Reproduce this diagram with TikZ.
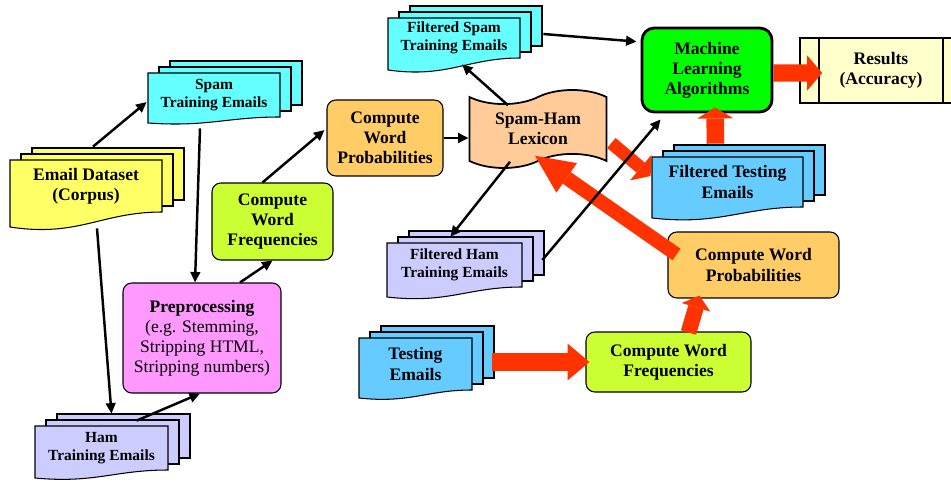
\documentclass[tikz,border=0pt]{standalone}
\usepackage{fontspec}
\setmainfont{Liberation Serif}
\usetikzlibrary{calc,arrows.meta,shapes.symbols}

\definecolor{dsyellow}{HTML}{FFFF66}
\definecolor{spamcyan}{HTML}{66FFFF}
\definecolor{hamlilac}{HTML}{CCCCFF}
\definecolor{testblue}{HTML}{66CCFF}
\definecolor{prepink}{HTML}{FF99FF}
\definecolor{freqlime}{HTML}{CCFF33}
\definecolor{probgold}{HTML}{FFCC66}
\definecolor{lexpeach}{HTML}{FFCC99}
\definecolor{mlgreen}{HTML}{00FF00}
\definecolor{rescream}{HTML}{FFFFCC}
\definecolor{flowred}{HTML}{FF3300}

\tikzset{
  box/.style={draw, rounded corners=5pt, align=center, inner sep=2pt, line width=0.6pt},
  sheet/.style={draw, line width=0.6pt},
  blackarrow/.style={line width=1.4pt, -{Triangle[length=6pt,width=5.5pt]}},
  redarrow/.style n args={3}{draw=flowred, line width=#1, -{Triangle[length=#3,width=#2,line width=0pt]}},
  small/.style={font=\bfseries\fontsize{8.8}{10}\selectfont}
}

% three sheets, the front one with a wavy bottom
% \docstack[fill]{name}(x1,y1)(x2,y2){dip}{text}{style}
\def\docstack[#1]#2(#3,#4)(#5,#6)#7#8#9{%
  \foreach \k in {2,1}
    \draw[sheet, fill=#1] ({#3+\k*11},{#4-\k*6}) rectangle ({#5+\k*11},{#6-\k*6});
  \draw[sheet, fill=#1] (#3,{#6+#7}) -- (#3,#4) -- (#5,#4) -- (#5,#6)
    .. controls +({-0.4*(#5-#3)},0) and +({0.45*(#5-#3)},{0.7*#7}) .. (#3,{#6+#7}) -- cycle;
  \node[inner sep=0pt, align=center, minimum width={(#5-#3)*0.02cm},
    minimum height={(#6-#4)*0.02cm}, #9] (#2) at ({(#3+#5)/2},{(#4+#6)/2}) {#8};
}

\begin{document}
\begin{tikzpicture}[x=0.02cm, y=-0.02cm,
    every node/.style={font=\bfseries\fontsize{10}{11.4}\selectfont}]
  %%%%% START %%%%%
  \useasboundingbox (0,0) rectangle (951,483);
  \clip (0,0) rectangle (951,483);

  % document stacks
  \docstack[dsyellow]{corpus}(10,160)(162,212){15}{Email Dataset\\(Corpus)}{}
  \docstack[spamcyan]{spamtr}(148,73)(280,117){6}{Spam\\Training Emails}{small}
  \docstack[hamlilac]{hamtr}(35,426)(168,470){8}{Ham\\Training Emails}{small}
  \docstack[spamcyan]{filspam}(388,18)(520,58){12}{Filtered Spam\\Training Emails}{small}
  \docstack[hamlilac]{filham}(387,243)(522,287){10}{Filtered Ham\\Training Emails}{small}
  \docstack[testblue]{testing}(359,338)(472,390){8}{Testing\\Emails}{}
  \docstack[testblue]{filtest}(652,157)(803,207){11}{Filtered Testing\\Emails}{}

  % process boxes
  \node[box, fill=prepink, minimum width=3.16cm, minimum height=2.2cm,
    font=\fontsize{10}{11.4}\selectfont] (prep) at (202,338)
    {\textbf{Preprocessing}\\(e.g. Stemming,\\Stripping HTML,\\Stripping numbers)};
  \node[box, fill=freqlime, minimum width=2.42cm, minimum height=1.54cm] (cwf1) at (272.5,221.5) {Compute\\Word\\Frequencies};
  \node[box, fill=probgold, minimum width=2.32cm, minimum height=1.52cm] (cwp1) at (385,138) {Compute\\Word\\Probabilities};
  \node[draw, tape, fill=lexpeach, line width=1pt, align=center, minimum width=2.74cm,
    minimum height=1.56cm, tape bend height=8pt] (lex) at (538,129) {Spam-Ham\\Lexicon};
  \node[box, fill=mlgreen, line width=1.6pt, rounded corners=7pt, minimum width=2.6cm,
    minimum height=1.68cm] (ml) at (707,70) {Machine\\Learning\\Algorithms};
  \node[draw, fill=rescream, line width=1pt, align=center, minimum width=3.24cm,
    minimum height=1.3cm] (res) at (881,70.5) {Results\\(Accuracy)};
  \draw[line width=1pt] ($(res.north west)+(20,0)$) -- ($(res.south west)+(20,0)$);
  \draw[line width=1pt] ($(res.north east)+(-20,0)$) -- ($(res.south east)+(-20,0)$);
  \node[box, fill=freqlime, minimum width=3.3cm, minimum height=1.2cm] (cwf2) at (668.5,362) {Compute Word\\Frequencies};
  \node[box, fill=probgold, minimum width=3.42cm, minimum height=1.32cm] (cwp2) at (753.5,265) {Compute Word\\Probabilities};

  % red flow arrows
  \draw[redarrow={9.7pt}{20pt}{8.5pt}] ($(ml.east)+(0,3)$) -- ($(res.west)+(23,2.5)$);
  \draw[redarrow={10pt}{20.5pt}{6.3pt}] ($(filtest.north)+(-12,-13)$) -- ($(ml.south)+(8,-6)$);
  \draw[redarrow={7.4pt}{19pt}{7.4pt}] ($(lex.east)+(4,14)$) -- ($(filtest.west)+(-1,-6)$);
  \draw[redarrow={8pt}{20.5pt}{22pt}] ($(cwp2.north west)+(9,23)$) -- ($(lex.south)+(-3,-6)$);
  \draw[redarrow={9.7pt}{21pt}{12.5pt}] ($(testing.east)+(20,-2)$) -- ($(cwf2.west)+(4,0)$);
  \draw[redarrow={9pt}{17pt}{7pt}] ($(cwf2.north)+(20,1)$) -- ($(cwp2.south west)+(32,-3)$);

  % black arrows
  \draw[blackarrow] ($(corpus.north)+(7,-13)$) -- ($(spamtr.west)+(-1,7)$);
  \draw[blackarrow] ($(corpus.south)+(11,16)$) -- ($(hamtr.north)+(10,-12)$);
  \draw[blackarrow] ($(spamtr.south)+(-14,11)$) -- ($(prep.north)+(-7,0)$);
  \draw[blackarrow] ($(hamtr.north)+(35,-5)$) -- ($(prep.south)+(-2,0)$);
  \draw[blackarrow] ($(prep.north)+(38,0)$) -- (cwf1.south);
  \draw[blackarrow] ($(cwf1.north)+(-10,0)$) -- ($(cwp1.west)+(-2,-8)$);
  \draw[blackarrow] (cwp1.east) -- (cwp1.east -| lex.west);
  \draw[blackarrow] ($(lex.north)+(-30,9)$) -- ($(filspam.south)+(8,6)$);
  \draw[blackarrow] ($(filspam.east)+(23,-4)$) -- ($(ml.north west)+(-4,15)$);
  \draw[blackarrow] ($(lex.south)+(-28,0)$) -- ($(filham.north)+(-4,-6)$);
  \draw[blackarrow] ($(filham.east)+(20,-5)$) -- ($(ml.south west)+(20,6)$);
  %%%%% END %%%%%
\end{tikzpicture}
\end{document}
